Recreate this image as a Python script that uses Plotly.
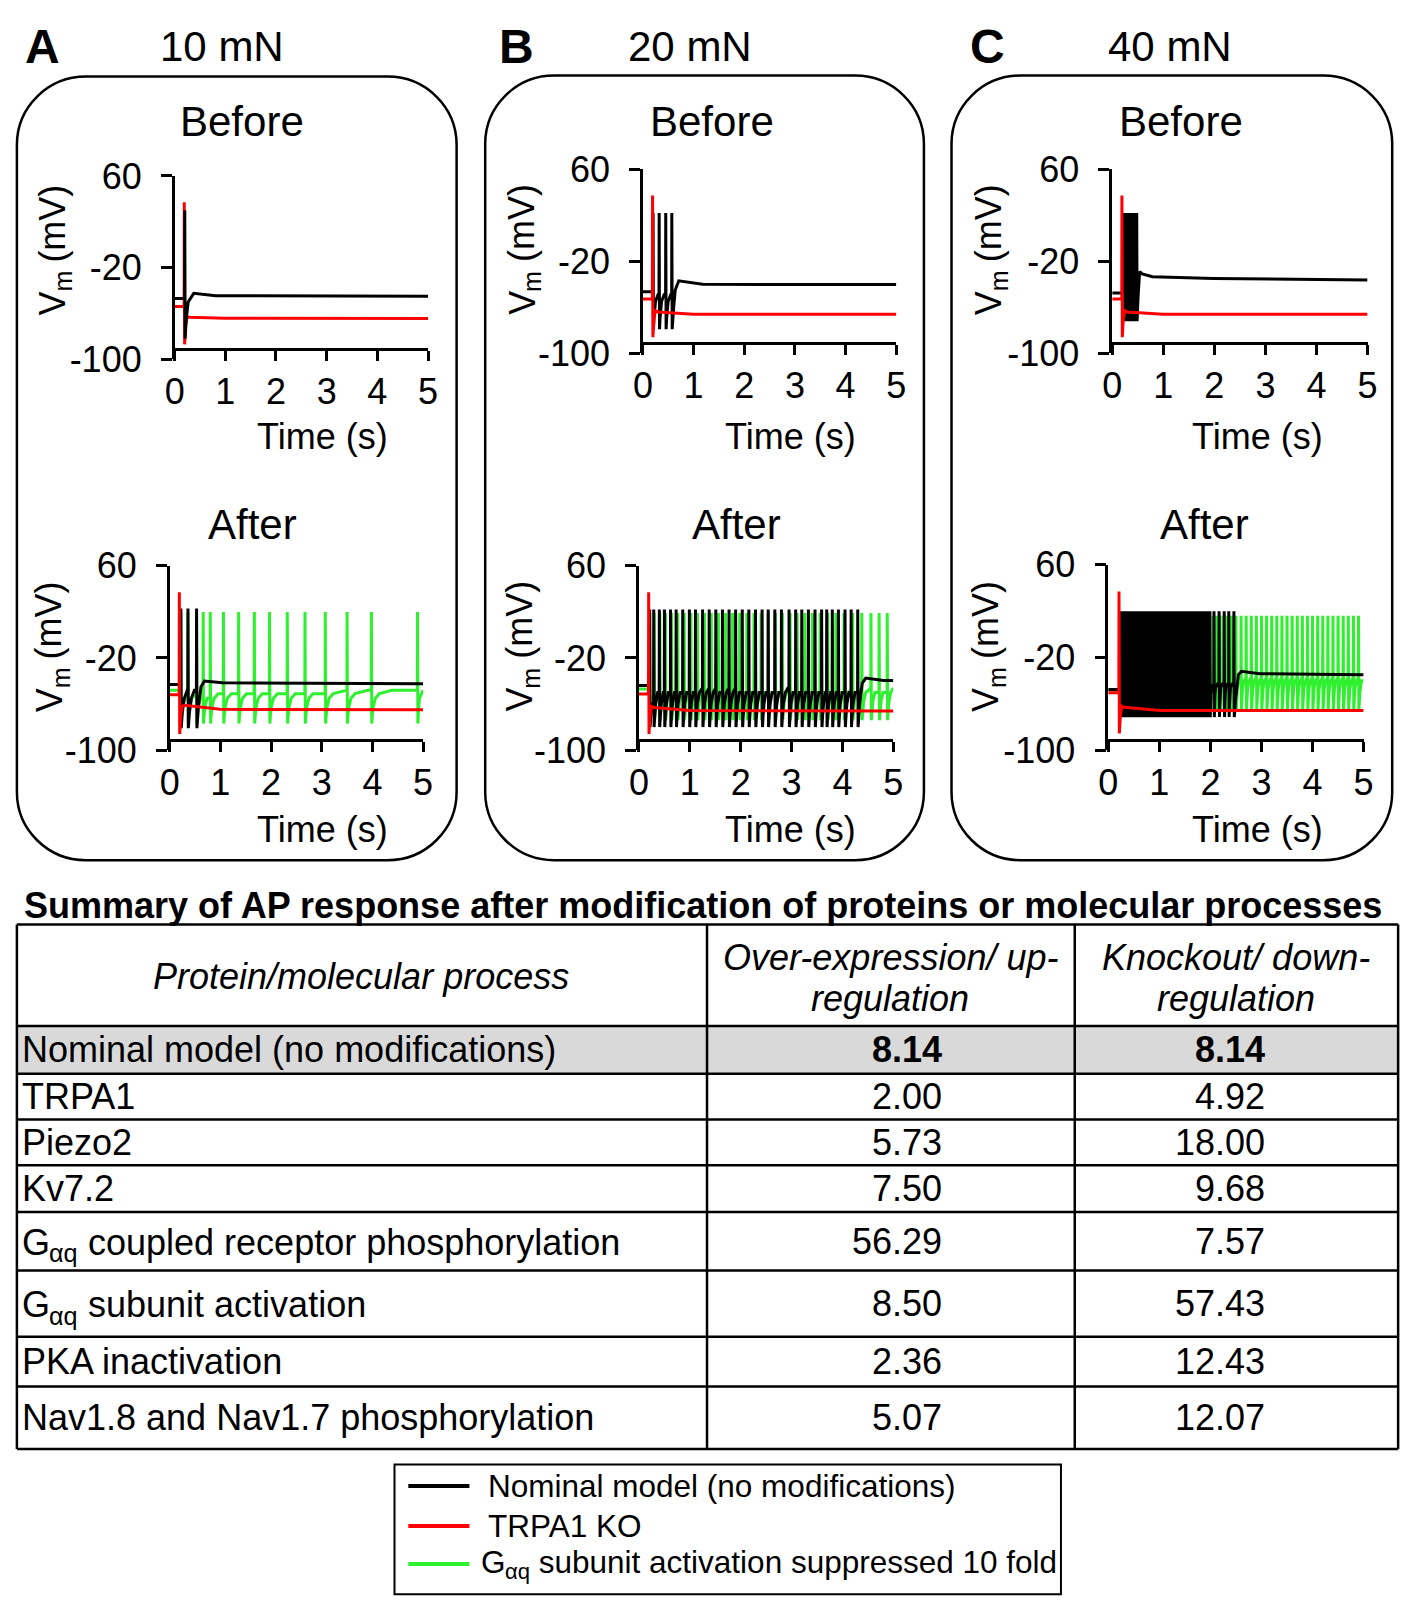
import plotly.graph_objects as go

W, H = 1417, 1623
FONT = "Liberation Sans, Arial, Helvetica, sans-serif"
BLACK, RED, GREEN = "#000000", "#ff0000", "#2ef02e"

# ------------------------------------------------------------------
# DATA
# spike times (s)
A_before_black_spk = [0.20]
A_before_red_spk = [0.19]
A_after_red_spk = [0.19]
A_after_black_spk = [0.22, 0.36, 0.53]
A_after_green_spk = [0.22, 0.36, 0.53, 0.66, 0.80, 1.06, 1.36, 1.67, 1.97,
                     2.32, 2.67, 3.07, 3.50, 3.98, 4.89]
B_before_black_spk = [0.20, 0.32, 0.45, 0.57]
B_before_red_spk = [0.19]
B_after_red_spk = [0.19]
B_after_black_spk = [0.21, 0.29, 0.40, 0.50, 0.62, 0.73, 0.86, 0.99, 1.11, 1.25,
                     1.38, 1.51, 1.64, 1.77, 1.90, 2.03, 2.16, 2.29, 2.42, 2.54,
                     2.67, 2.80, 2.95, 3.08, 3.20, 3.33, 3.46, 3.59, 3.69, 3.80,
                     3.92, 4.05, 4.17, 4.30]
B_after_green_spk = [0.21, 0.30, 0.41, 0.52, 0.64, 0.76, 0.89, 1.02, 1.15, 1.29,
                     1.42, 1.56, 1.70, 1.84, 1.98, 2.12, 2.26, 2.40, 2.54, 2.68,
                     2.82, 2.97, 3.11, 3.26, 3.41, 3.56, 3.71, 3.87, 4.03, 4.20,
                     4.38, 4.56, 4.72, 4.88]
C_before_black_spk = [0.24, 0.27, 0.30, 0.33, 0.36, 0.39, 0.42, 0.45, 0.48]
C_before_red_spk = [0.19]
C_after_red_spk = [0.21]
C_after_black_spk = [0.23, 0.27, 0.31, 0.35, 0.39, 0.43, 0.47, 0.51, 0.55, 0.59,
                     0.63, 0.67, 0.71, 0.75, 0.79, 0.83, 0.87, 0.91, 0.95, 0.99,
                     1.03, 1.07, 1.11, 1.15, 1.19, 1.23, 1.27, 1.31, 1.35, 1.39,
                     1.43, 1.47, 1.51, 1.55, 1.59, 1.63, 1.67, 1.71, 1.75, 1.79,
                     1.83, 1.87, 1.91, 1.95, 1.99, 2.07, 2.17, 2.27, 2.36, 2.46]
C_after_green_spk = [0.23, 0.30, 0.37, 0.44, 0.51, 0.58, 0.65, 0.72, 0.79, 0.86,
                     0.93, 1.00, 1.07, 1.14, 1.21, 1.28, 1.35, 1.42, 1.49, 1.56,
                     1.63, 1.70, 1.77, 1.84, 1.91, 1.98, 2.05, 2.12, 2.19, 2.26,
                     2.33, 2.41, 2.50, 2.60, 2.70, 2.80, 2.90, 3.00, 3.10, 3.20,
                     3.30, 3.40, 3.50, 3.60, 3.70, 3.80, 3.90, 4.00, 4.10, 4.20,
                     4.30, 4.40, 4.50, 4.60, 4.70, 4.80, 4.90]

# membrane levels (mV): rest, spike peak, spike trough
A_before_black_mV = [-47, 30, -82]
A_before_red_mV = [-54, 37, -87]
A_after_red_mV = [-52, 37, -86]
A_after_black_mV = [-43, 23, -81]
A_after_green_mV = [-48, 20, -77]
B_before_black_mV = [-46.4, 22, -79]
B_before_red_mV = [-52.7, 37, -86]
B_after_red_mV = [-51.4, 37, -86]
B_after_black_mV = [-44, 22, -80]
B_after_green_mV = [-47, 19, -74]
C_before_black_mV = [-47.6, 22, -72]
C_before_red_mV = [-52.7, 37, -86]
C_after_red_mV = [-50.4, 37, -85.6]
C_after_black_mV = [-47.6, 20, -71.5]
C_after_green_mV = [-48, 16, -65]

# recovery between spikes (s after trough, mV)
A_after_black_rec_s, A_after_black_rec_mV = [0.02, 0.06, 0.12], [-68, -55, -48]
A_after_green_rec_s = [0.01, 0.03, 0.07, 0.15, 0.4, 0.9]
A_after_green_rec_mV = [-70, -62, -55, -51, -48, -43]
B_before_black_rec_s, B_before_black_rec_mV = [0.01, 0.04, 0.09], [-70, -55, -49]
B_after_black_rec_s, B_after_black_rec_mV = [0.01, 0.03, 0.07, 0.12], [-72, -60, -50, -46]
B_after_green_rec_s, B_after_green_rec_mV = [0.01, 0.03, 0.07, 0.15], [-68, -58, -50, -47]
C_before_black_rec_s, C_before_black_rec_mV = [0.005, 0.012, 0.022], [-62, -52, -46]
C_after_black_rec_s, C_after_black_rec_mV = [0.005, 0.012, 0.025, 0.06], [-62, -52, -46, -43]
C_after_green_rec_s, C_after_green_rec_mV = [0.008, 0.02, 0.045, 0.08], [-58, -48, -41, -38]

# tail after the last spike (s after trough, mV)
A_before_black_tail_s, A_before_black_tail_mV = [0.02, 0.06, 0.17, 0.6, 4.79], [-66, -50, -42.5, -44.5, -45]
red_tail_s = [0.02, 0.05, 0.1, 0.8, 4.79]
A_before_red_tail_mV = [-70, -63, -63.4, -64.3, -64.5]
A_after_red_tail_mV = [-70, -62, -61, -64.6, -65]
A_after_black_tail_s, A_after_black_tail_mV = [0.03, 0.08, 0.15, 0.5, 4.4], [-62, -45, -40, -41.5, -42.5]
A_after_green_tail_s, A_after_green_tail_mV = [0.01, 0.03, 0.1], [-68, -55, -48]
B_before_black_tail_s, B_before_black_tail_mV = [0.03, 0.06, 0.13, 0.6, 4.4], [-60, -45, -37, -40, -40.3]
B_before_red_tail_mV = [-70, -63, -64, -66, -66]
B_after_red_tail_mV = [-70, -62, -63, -65.7, -66]
B_after_black_tail_s, B_after_black_tail_mV = [0.03, 0.08, 0.15, 0.5], [-60, -42, -37.5, -39.5]
B_after_green_tail_s, B_after_green_tail_mV = [0.02, 0.06, 0.1], [-60, -50, -47]
C_before_black_tail_s = [0.02, 0.05, 0.1, 0.3, 1.5, 4.4]
C_before_black_tail_mV = [-50, -29, -31, -33.5, -35, -36.3]
C_before_red_tail_mV = [-70, -63, -64, -66, -66]
C_after_red_tail_mV = [-70, -62, -63, -65.8, -66]
C_after_black_tail_s, C_after_black_tail_mV = [0.03, 0.08, 0.14, 0.5, 2.5], [-55, -35, -32, -34, -35]
C_after_green_tail_s, C_after_green_tail_mV = [0.02, 0.05], [-50, -40]

# axis ticks
time_ticks = [0, 1, 2, 3, 4, 5]
vm_ticks = [-100, -20, 60]
vm_ticktext = ["-100", "-20", "60"]

# titles
panel_letters = ["A", "B", "C"]
panel_forces = ["10 mN", "20 mN", "40 mN"]

# table  (main text, subscript, rest of text)
table_title = "Summary of AP response after modification of proteins or molecular processes"
row_labels = [("Nominal model (no modifications)", "", ""), ("TRPA1", "", ""),
              ("Piezo2", "", ""), ("Kv7.2", "", ""),
              ("G", "αq", " coupled receptor phosphorylation"),
              ("G", "αq", " subunit activation"), ("PKA inactivation", "", ""),
              ("Nav1.8 and Nav1.7 phosphorylation", "", "")]
over_expression = [8.14, 2.00, 5.73, 7.50, 56.29, 8.50, 2.36, 5.07]
knockout = [8.14, 4.92, 18.00, 9.68, 7.57, 57.43, 12.43, 12.07]
legend_labels = [("Nominal model (no modifications)", "", ""), ("TRPA1 KO", "", ""),
                 ("G", "αq", " subunit activation suppressed 10 fold")]
# ------------------------------------------------------------------


def px(x):
    return x / W


def py(y):
    return 1 - y / H


def build(levels, spikes, rec_s, rec_mV, tail_s, tail_mV):
    rest, peak, trough = levels
    t, v = [0.0], [rest]
    for i, ts in enumerate(spikes):
        if ts - 0.003 > t[-1]:
            t.append(ts - 0.003)
            v.append(v[-1])
        t += [ts, ts + 0.007]
        v += [peak, trough]
        t_tr = ts + 0.007
        if i + 1 < len(spikes):
            nxt = spikes[i + 1] - 0.003
            for d, val in zip(rec_s, rec_mV):
                if t_tr + d < nxt:
                    t.append(t_tr + d)
                    v.append(val)
        else:
            for d, val in zip(tail_s, tail_mV):
                if t_tr + d <= 5.0:
                    t.append(t_tr + d)
                    v.append(val)
    if t[-1] < 5.0:
        t.append(5.0)
        v.append(v[-1])
    return t, v


series = {
    1: [(RED, build(A_before_red_mV, A_before_red_spk, [], [], red_tail_s, A_before_red_tail_mV)),
        (BLACK, build(A_before_black_mV, A_before_black_spk, [], [], A_before_black_tail_s, A_before_black_tail_mV))],
    2: [(BLACK, build(B_before_black_mV, B_before_black_spk, B_before_black_rec_s, B_before_black_rec_mV, B_before_black_tail_s, B_before_black_tail_mV)),
        (RED, build(B_before_red_mV, B_before_red_spk, [], [], red_tail_s, B_before_red_tail_mV))],
    3: [(BLACK, build(C_before_black_mV, C_before_black_spk, C_before_black_rec_s, C_before_black_rec_mV, C_before_black_tail_s, C_before_black_tail_mV)),
        (RED, build(C_before_red_mV, C_before_red_spk, [], [], red_tail_s, C_before_red_tail_mV))],
    4: [(GREEN, build(A_after_green_mV, A_after_green_spk, A_after_green_rec_s, A_after_green_rec_mV, A_after_green_tail_s, A_after_green_tail_mV)),
        (BLACK, build(A_after_black_mV, A_after_black_spk, A_after_black_rec_s, A_after_black_rec_mV, A_after_black_tail_s, A_after_black_tail_mV)),
        (RED, build(A_after_red_mV, A_after_red_spk, [], [], red_tail_s, A_after_red_tail_mV))],
    5: [(GREEN, build(B_after_green_mV, B_after_green_spk, B_after_green_rec_s, B_after_green_rec_mV, B_after_green_tail_s, B_after_green_tail_mV)),
        (BLACK, build(B_after_black_mV, B_after_black_spk, B_after_black_rec_s, B_after_black_rec_mV, B_after_black_tail_s, B_after_black_tail_mV)),
        (RED, build(B_after_red_mV, B_after_red_spk, [], [], red_tail_s, B_after_red_tail_mV))],
    6: [(GREEN, build(C_after_green_mV, C_after_green_spk, C_after_green_rec_s, C_after_green_rec_mV, C_after_green_tail_s, C_after_green_tail_mV)),
        (BLACK, build(C_after_black_mV, C_after_black_spk, C_after_black_rec_s, C_after_black_rec_mV, C_after_black_tail_s, C_after_black_tail_mV)),
        (RED, build(C_after_red_mV, C_after_red_spk, [], [], red_tail_s, C_after_red_tail_mV))],
}

# plot-area geometry in pixels: x(0), x(5), y(60), y(-100)
geom = {1: (167, 424, 160, 348), 2: (642, 899, 153, 342), 3: (1118, 1377, 153, 342),
        4: (162, 419, 560, 749), 5: (638, 896, 560, 749), 6: (1114, 1373, 559, 749)}

fig = go.Figure()
layout = dict(width=W, height=H, margin=dict(l=0, r=0, t=0, b=0),
              paper_bgcolor="white", plot_bgcolor="white", showlegend=False,
              font=dict(family=FONT, color="black"))

for i in range(1, 7):
    sx = "" if i == 1 else str(i)
    for color, (t, v) in series[i]:
        fig.add_trace(go.Scatter(x=t, y=v, mode="lines", line=dict(color=color, width=3),
                                 xaxis="x" + sx, yaxis="y" + sx, hoverinfo="skip"))
    x0, x5, y60, y100 = geom[i]
    layout["xaxis" + sx] = dict(domain=[px(x0), px(x5)], range=[0, 5], anchor="free",
                                position=py(y100 - 10.5), showline=True, linecolor="black",
                                linewidth=2.5, ticks="outside", ticklen=10, tickwidth=2.5,
                                tickcolor="black", tickvals=time_ticks, showgrid=False,
                                zeroline=False, tickfont=dict(size=36, family=FONT),
                                ticklabelstandoff=0)
    layout["yaxis" + sx] = dict(domain=[py(y100), py(y60)], range=[-100, 60], anchor="x" + sx,
                                showline=True, linecolor="black", linewidth=2.5,
                                ticks="outside", ticklen=11, tickwidth=2.5, tickcolor="black",
                                tickvals=vm_ticks, ticktext=vm_ticktext, showgrid=False,
                                zeroline=False, tickfont=dict(size=36, family=FONT),
                                ticklabelstandoff=12)

ann = []


def text(x, y, s, size, xanchor="center", angle=0, weight="normal", style="normal"):
    ann.append(dict(x=px(x), y=py(y), xref="paper", yref="paper", text=s, showarrow=False,
                    xanchor=xanchor, yanchor="middle", textangle=angle,
                    font=dict(size=size, family=FONT, color="black", weight=weight, style=style)))


# approximate advance widths (em) of Liberation Sans, for placing subscripts
ADV = {"G": 0.778, "V": 0.667, "α": 0.578, "q": 0.556, "m": 0.833, " ": 0.278}


def width(s, size):
    return sum(ADV.get(c, 0.556) for c in s) * size


def sub_text(x, y, parts, size):
    main, sub, rest = parts
    text(x, y, main, size, xanchor="left")
    if sub:
        ss = size * 0.7
        x1 = x + width(main, size)
        text(x1, y + size * 0.31, sub, ss, xanchor="left")
        text(x1 + width(sub, ss), y, rest, size, xanchor="left")


def vm_label(xc, yc, size=36):
    # rotated "V_m (mV)", reading bottom to top, centred on (xc, yc)
    ss = size * 0.7
    total = width("V", size) + width("m", ss) + width(" ", size) + 2.166 * size
    yb = yc + total / 2
    text(xc, yb - width("V", size) / 2, "V", size, angle=-90)
    text(xc + size * 0.31, yb - width("V", size) - width("m", ss) / 2, "m", ss, angle=-90)
    text(xc, yb - width("V", size) - width("m", ss) - width(" ", size) - 1.083 * size,
         "(mV)", size, angle=-90)


# panel headings
letter_x = [33, 514, 991]
force_x = [215, 690, 1177]
before_x = [235, 712, 1188]
after_x = [246, 737, 1212]
vm_x_before = [43, 519, 992]
vm_x_after = [40, 517, 990]
time_x = [317, 792, 1265]
for k in range(3):
    text(letter_x[k], 27, panel_letters[k], 48, weight="bold")
    text(force_x[k], 27, panel_forces[k], 42)
    text(before_x[k], 104, "Before", 42)
    text(after_x[k], 518, "After", 42)
    vm_label(vm_x_before[k], 236)
    vm_label(vm_x_after[k], 643)
    text(time_x[k], 427, "Time (s)", 36)
    text(time_x[k], 830, "Time (s)", 36)

shapes = []


def rounded(x0, y0, x1, y1, r):
    k = 0.5523 * r
    P = lambda a, b: f"{px(a)},{py(b)}"
    d = (f"M {P(x0 + r, y0)} L {P(x1 - r, y0)} C {P(x1 - r + k, y0)} {P(x1, y0 + r - k)} {P(x1, y0 + r)} "
         f"L {P(x1, y1 - r)} C {P(x1, y1 - r + k)} {P(x1 - r + k, y1)} {P(x1 - r, y1)} "
         f"L {P(x0 + r, y1)} C {P(x0 + r - k, y1)} {P(x0, y1 - r + k)} {P(x0, y1 - r)} "
         f"L {P(x0, y0 + r)} C {P(x0, y0 + r - k)} {P(x0 + r - k, y0)} {P(x0 + r, y0)} Z")
    shapes.append(dict(type="path", path=d, xref="paper", yref="paper",
                       line=dict(color="black", width=2.5)))


rounded(7, 58, 453, 862, 70)
rounded(482, 57, 927, 862, 70)
rounded(955, 57, 1402, 862, 70)

# table
col_x = [7, 707, 1080, 1408]
row_y = [928, 1032, 1081, 1128, 1175, 1223, 1283, 1351, 1402, 1466]
shapes.append(dict(type="rect", xref="paper", yref="paper", x0=px(col_x[0]), x1=px(col_x[-1]),
                   y0=py(row_y[2]), y1=py(row_y[1]), fillcolor="#d9d9d9", line=dict(width=0),
                   layer="below"))
for yy in row_y:
    shapes.append(dict(type="line", xref="paper", yref="paper", x0=px(col_x[0]), x1=px(col_x[-1]),
                       y0=py(yy), y1=py(yy), line=dict(color="black", width=2.5)))
for xx in col_x:
    shapes.append(dict(type="line", xref="paper", yref="paper", x0=px(xx), x1=px(xx),
                       y0=py(row_y[0]), y1=py(row_y[-1]), line=dict(color="black", width=2.5)))

text(703, 908, table_title, 36, weight="bold")
text(356, 981, "Protein/molecular process", 36, style="italic")
text(893, 962, "Over-expression/ up-", 36, style="italic")
text(893, 1004, "regulation", 36, style="italic")
text(1244, 962, "Knockout/ down-", 36, style="italic")
text(1244, 1004, "regulation", 36, style="italic")
for r, parts in enumerate(row_labels):
    yc = (row_y[r + 1] + row_y[r + 2]) / 2
    w = "bold" if r == 0 else "normal"
    sub_text(10, yc + (1 if parts[1] else 0), parts, 36)
    text(947, yc, f"{over_expression[r]:.2f}", 36, xanchor="right", weight=w)
    text(1275, yc, f"{knockout[r]:.2f}", 36, xanchor="right", weight=w)

# legend box
shapes.append(dict(type="rect", xref="paper", yref="paper", x0=px(390), x1=px(1066),
                   y0=py(1615), y1=py(1482), line=dict(color="black", width=2)))
leg_y = [1504, 1545, 1582]
leg_col = [BLACK, RED, GREEN]
leg_tx = [483, 483, 476]
for k in range(3):
    shapes.append(dict(type="line", xref="paper", yref="paper", x0=px(404), x1=px(466),
                       y0=py(leg_y[k] + (2 if k == 2 else 0)), y1=py(leg_y[k] + (2 if k == 2 else 0)),
                       line=dict(color=leg_col[k], width=4)))
    sub_text(leg_tx[k], leg_y[k], legend_labels[k], 31.5)

layout["annotations"] = ann
layout["shapes"] = shapes
fig.update_layout(**layout)
fig.write_html("out.html", config={"displayModeBar": False},
               post_script="document.body.style.margin='0px';document.body.style.padding='0px';")
